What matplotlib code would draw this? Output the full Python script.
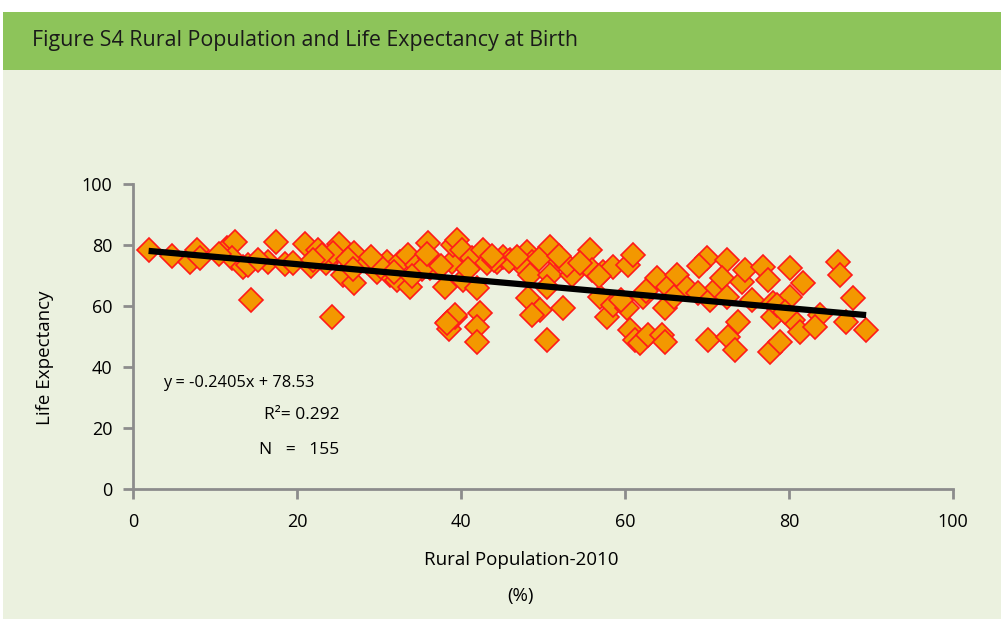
import matplotlib.pyplot as plt
from matplotlib.patches import Rectangle

# rural population (%) and life expectancy
rural = [1.9, 4.8, 7.0, 7.8, 8.2, 11.5, 12.4, 12.1, 13.4, 14.0, 14.4, 16.5, 17.4, 18.5,
         21.0, 21.7, 22.6, 23.5, 24.3, 25.1, 24.4, 25.6, 27.0, 27.0, 28.5, 29.8, 31.0, 31.3,
         32.6, 32.2, 33.5, 33.8, 34.6, 36.0, 36.2, 36.2, 38.9, 39.0, 38.0, 38.4, 38.5, 35.2,
         30.2, 26.2, 23.0,
         39.5, 40.1, 41.3, 42.7, 43.2, 44.4, 45.1, 40.2, 41.9, 42.3, 39.3, 41.9, 41.9, 39.3,
         38.3, 48.0, 48.7, 47.4, 48.4, 50.9, 51.8, 50.9, 50.5, 48.2, 49.6, 48.7, 52.4, 50.5,
         53.5, 52.9, 55.7, 56.0, 57.3, 58.5, 57.0, 57.8, 46.0, 45.8, 44.0,
         60.4, 61.0, 58.5, 60.2, 60.6, 61.2, 61.8, 62.8, 64.5, 64.9, 62.2, 63.9, 64.9, 65.2,
         66.3, 67.6, 68.9, 70.0, 70.4, 70.1, 71.2, 72.4, 71.8, 72.4, 73.8, 72.6, 73.4, 74.3,
         74.6, 76.8, 77.4, 78.0, 78.0, 77.7,
         80.1, 81.7, 80.1, 78.5, 80.5, 81.3, 83.8, 83.2, 78.9, 86.0, 86.2, 87.8, 87.0, 89.4,
         10.5, 15.2, 19.5, 22.0, 26.8, 29.0, 31.8, 34.0, 35.8, 37.5, 40.8, 43.8, 46.8, 49.5,
         52.0, 54.5, 56.8, 59.5, 62.5, 66.0, 69.0, 75.5, 79.5]
life = [78.5, 76.4, 74.4, 78.4, 75.7, 79.0, 81.0, 75.7, 72.8, 73.4, 62.0, 74.4, 81.0, 73.8,
        80.3, 73.0, 78.4, 74.0, 56.4, 80.3, 77.4, 70.2, 77.4, 67.5, 74.4, 71.1, 74.4, 70.2,
        74.4, 68.5, 76.7, 66.2, 73.4, 80.7, 75.7, 72.5, 74.4, 80.0, 66.2, 54.8, 52.5, 72.0,
        72.8, 75.5, 76.8,
        81.6, 78.4, 75.7, 78.4, 74.0, 74.4, 76.0, 68.5, 65.9, 57.7, 56.4, 53.1, 48.2, 57.0,
        54.4, 77.7, 74.4, 73.4, 70.2, 79.3, 75.0, 70.2, 66.2, 62.6, 58.7, 57.0, 59.3, 48.9,
        70.2, 73.4, 78.4, 71.8, 71.1, 72.8, 63.0, 56.4, 75.0, 74.7, 75.2,
        73.4, 76.7, 60.3, 59.3, 52.1, 48.9, 47.9, 50.5, 50.5, 48.2, 63.0, 69.2, 59.3, 66.2,
        70.2, 65.9, 64.3, 75.7, 62.0, 48.9, 65.9, 75.0, 69.2, 63.0, 54.8, 49.8, 45.6, 67.9,
        71.8, 72.8, 68.5, 61.0, 56.4, 44.9,
        72.5, 67.5, 63.0, 60.3, 55.4, 51.5, 57.0, 53.1, 48.2, 74.4, 70.2, 62.6, 54.8, 52.1,
        77.0, 75.0, 74.0, 75.0, 72.0, 76.0, 71.0, 70.0, 77.0, 73.0, 72.0, 76.5, 76.0, 75.5,
        76.5, 74.0, 70.0, 62.0, 65.0, 63.0, 73.0, 62.0, 58.0]

slope = -0.2405
intercept = 78.53
title = 'Figure S4 Rural Population and Life Expectancy at Birth'

plt.rcParams['font.family'] = ['Open Sans', 'DejaVu Sans']

fig = plt.figure(figsize=(10.01, 6.19), dpi=100)
fig.patch.set_facecolor('white')
# light green panel and green header band
fig.add_artist(Rectangle((0.003, 0), 0.997, 0.887, transform=fig.transFigure,
                         facecolor='#ebf1df', edgecolor='none', zorder=-5))
fig.add_artist(Rectangle((0.003, 0.887), 0.997, 0.094, transform=fig.transFigure,
                         facecolor='#8dc45a', edgecolor='none', zorder=-5))
fig.text(0.032, 0.934, title, fontsize=15.4, color='#1a1a1a', va='center', ha='left')

ax = fig.add_axes([0.1329, 0.21, 0.8192, 0.4927])
ax.patch.set_alpha(0)

ax.plot(rural, life, linestyle='none', marker='D', markersize=12.5,
        markerfacecolor='#f39800', markeredgecolor='#ff1a1a', markeredgewidth=1.2, zorder=2)

xs = [min(rural), max(rural)]
ax.plot(xs, [slope * x + intercept for x in xs], color='black', lw=4.5,
        solid_capstyle='butt', zorder=3)

ax.set_xlim(0, 100)
ax.set_ylim(0, 100)
ax.set_xticks(range(0, 101, 20))
ax.set_yticks(range(0, 101, 20))
for s in ['top', 'right']:
    ax.spines[s].set_visible(False)
for s in ['left', 'bottom']:
    ax.spines[s].set_color('#8c8c8c')
    ax.spines[s].set_linewidth(2)
ax.tick_params(direction='out', length=7, width=2, color='#8c8c8c',
               labelsize=13, labelcolor='black')
ax.tick_params(axis='y', pad=8)
ax.tick_params(axis='x', pad=10)

ax.text(-0.107, 0.43, 'Life Expectancy', transform=ax.transAxes, fontsize=13.5,
        rotation=90, ha='center', va='center')
ax.text(0.473, -0.232, 'Rural Population-2010', transform=ax.transAxes, fontsize=13.5,
        ha='center', va='center')
ax.text(0.473, -0.35, '(%)', transform=ax.transAxes, fontsize=13.5,
        ha='center', va='center')

ax.text(0.037, 0.348, 'y = -0.2405x + 78.53', transform=ax.transAxes, fontsize=11.8,
        ha='left', va='center')
ax.text(0.252, 0.243, 'R²= 0.292', transform=ax.transAxes, fontsize=12.5,
        ha='right', va='center')
ax.text(0.252, 0.128, 'N   =   155', transform=ax.transAxes, fontsize=12.5,
        ha='right', va='center')

plt.savefig('out.png', dpi=100)
